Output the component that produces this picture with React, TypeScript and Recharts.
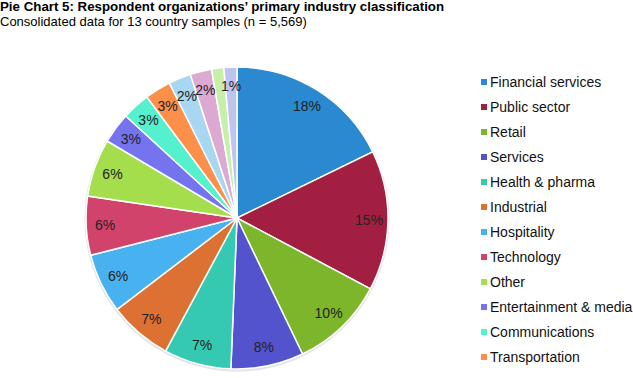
import React from "react";
import { PieChart, Pie, Cell, Legend } from "recharts";

const categories = [
  "Financial services",
  "Public sector",
  "Retail",
  "Services",
  "Health & pharma",
  "Industrial",
  "Hospitality",
  "Technology",
  "Other",
  "Entertainment & media",
  "Communications",
  "Transportation",
  "Category 13",
  "Category 14",
  "Category 15",
  "Category 16",
];
const values = [17.8, 15.0, 10.1, 7.8, 7.2, 6.8, 6.4, 6.3, 6.2, 3.3, 3.0, 2.8, 2.4, 2.3, 1.3, 1.4];
const colors = [
  "#2A89D1", "#A31F41", "#7DB62B", "#5353CE", "#36C9B2", "#DD7033",
  "#48B1F0", "#D2436C", "#A4DE4C", "#7573EE", "#55F0CE", "#FC8F4A",
  "#A9D6F1", "#DCA9D3", "#C6EFA9", "#BFC4EE",
];
const legendCount = 12;
const hiddenLabels = ["Category 15"];

const title = "Pie Chart 5: Respondent organizations\u2019 primary industry classification";
const subtitle = "Consolidated data for 13 country samples (n = 5,569)";

const data = categories.map((name, i) => ({ name, value: values[i] }));
const FONT = "'Liberation Sans', Arial, Helvetica, sans-serif";
const RADIAN = Math.PI / 180;

const renderLabel = (props: any) => {
  const { cx, cy, midAngle, outerRadius, value, name } = props;
  if (hiddenLabels.includes(name)) return null;
  const r = outerRadius * 0.875;
  const x = cx + r * Math.cos(-midAngle * RADIAN);
  const y = cy + r * Math.sin(-midAngle * RADIAN);
  return (
    <text x={x} y={y} textAnchor="middle" dominantBaseline="central" fill="#222" fontSize={14} fontFamily={FONT}>
      {Math.round(value)}%
    </text>
  );
};

const renderLegend = () => (
  <div style={{ fontFamily: FONT, fontSize: 14, color: "#111", whiteSpace: "nowrap" }}>
    {categories.slice(0, legendCount).map((c, i) => (
      <div key={c} style={{ display: "flex", alignItems: "center", height: 25 }}>
        <span style={{ width: 6, height: 6, background: colors[i], display: "inline-block", marginRight: 3 }} />
        <span>{c}</span>
      </div>
    ))}
  </div>
);

export default function App() {
  return (
    <div style={{ position: "absolute", left: 0, top: 0, width: 633, height: 378, background: "#fff", fontFamily: FONT, overflow: "hidden" }}>
      <div style={{ position: "absolute", left: 0, top: 0, fontSize: 13.3, fontWeight: "bold", lineHeight: "14px", color: "#000" }}>{title}</div>
      <div style={{ position: "absolute", left: 0, top: 14, fontSize: 13, lineHeight: "15px", color: "#000" }}>{subtitle}</div>
      <PieChart
        width={633}
        height={378}
        margin={{ top: 0, right: 0, bottom: 0, left: 0 }}
        style={{ position: "absolute", left: 0, top: 0 }}
      >
        <Pie
          data={[{ name: "shadow", value: 1 }]}
          dataKey="value"
          cx={237}
          cy={219}
          outerRadius={152.5}
          startAngle={90}
          endAngle={-270}
          fill="#e4e4e4"
          stroke="none"
          isAnimationActive={false}
          legendType="none"
        />
        <Pie
          data={data}
          dataKey="value"
          nameKey="name"
          cx={237}
          cy={218}
          outerRadius={151}
          startAngle={90}
          endAngle={-270}
          stroke="#fff"
          strokeWidth={1.5}
          label={renderLabel}
          labelLine={false}
          isAnimationActive={false}
        >
          {data.map((d, i) => (
            <Cell key={d.name} fill={colors[i]} />
          ))}
        </Pie>
        <Legend
          layout="vertical"
          align="right"
          verticalAlign="top"
          content={renderLegend}
          wrapperStyle={{ left: 481, top: 69, width: 160 }}
        />
      </PieChart>
    </div>
  );
}
